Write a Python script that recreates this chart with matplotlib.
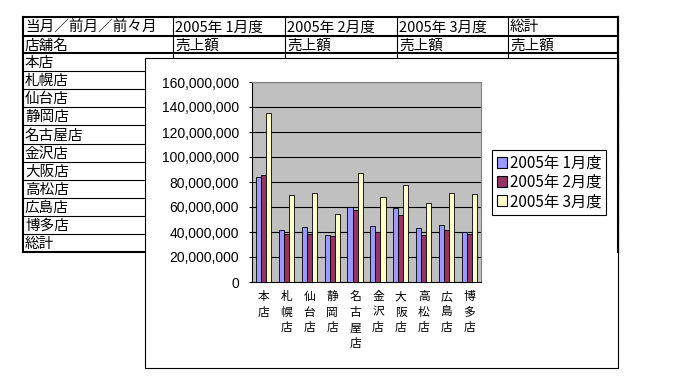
import matplotlib
matplotlib.use("Agg")
import matplotlib.pyplot as plt
from matplotlib.patches import Rectangle, Patch
from matplotlib.ticker import FuncFormatter

plt.rcParams['font.family'] = ['Noto Sans CJK JP', 'DejaVu Sans']

# sheet contents
header1 = ["当月／前月／前々月", "2005年 1月度", "2005年 2月度", "2005年 3月度", "総計"]
header2 = ["店舗名", "売上額", "売上額", "売上額", "売上額"]
stores = ["本店", "札幌店", "仙台店", "静岡店", "名古屋店", "金沢店",
          "大阪店", "高松店", "広島店", "博多店"]
total_label = "総計"

# chart data (yen)
series_names = ["2005年 1月度", "2005年 2月度", "2005年 3月度"]
jan = [84000000, 41600000, 44000000, 37600000, 60000000,
       44800000, 59200000, 43200000, 45600000, 40000000]
feb = [85600000, 38700000, 38700000, 36800000, 57600000,
       40300000, 53600000, 37600000, 41600000, 38400000]
mar = [135200000, 69600000, 71200000, 54400000, 87200000,
       68000000, 77600000, 63200000, 71200000, 70400000]
colors = ["#9999FF", "#993366", "#FFFFCC"]

W, H = 691, 379
fig = plt.figure(figsize=(W / 100, H / 100), dpi=100)

# spreadsheet in pixel coords
bg = fig.add_axes([0, 0, 1, 1])
bg.set_xlim(0, W)
bg.set_ylim(H, 0)
bg.axis("off")

cols = [23, 173, 285, 397, 508, 618]
rows = [17, 36, 53] + [53 + 18.1 * (i + 1) for i in range(11)]
thin, thick = 0.8, 1.5
for y in rows:
    lw = thick if y in (17, 36, 53, rows[-1]) else thin
    bg.plot([cols[0], cols[-1]], [y, y], color="black", lw=lw, zorder=2)
for x in cols:
    bg.plot([x, x], [rows[0], rows[-1]], color="black", lw=thick if x in (23, 618) else thin, zorder=2)

for j, t in enumerate(header1):
    bg.text(cols[j] + 2, (rows[0] + rows[1]) / 2 + 1, t, fontsize=10.5, va="center", ha="left")
for j, t in enumerate(header2):
    bg.text(cols[j] + 2, (rows[1] + rows[2]) / 2 + 1, t, fontsize=10.5, va="center", ha="left")
for i, t in enumerate(stores + [total_label]):
    bg.text(cols[0] + 2, (rows[i + 2] + rows[i + 3]) / 2 + 1, t, fontsize=10.5, va="center", ha="left")

# chart frame on top of the sheet
bg.add_patch(Rectangle((145, 58), 618 - 145, 368 - 58, facecolor="white",
                       edgecolor="black", lw=0.8, zorder=5))
bg.plot([618, 618], [rows[0], rows[-1]], color="black", lw=thick, zorder=6)

# chart
ax = fig.add_axes([252 / W, (H - 282) / H, (481 - 252) / W, 200 / H])
ax.set_facecolor("#C0C0C0")
n = len(stores)
bw = 0.22
xs = list(range(n))
for k, (vals, c) in enumerate(zip([jan, feb, mar], colors)):
    ax.bar([x + (k - 1) * bw for x in xs], vals, bw, color=c, edgecolor="black",
           linewidth=0.6, zorder=3)
ax.set_xlim(-0.5, n - 0.5)
ax.set_ylim(0, 160000000)
ax.set_yticks(range(0, 160000001, 20000000))
ax.yaxis.set_major_formatter(FuncFormatter(lambda v, p: f"{int(v):,}"))
ax.grid(axis="y", color="black", lw=0.8, zorder=1)
ax.set_axisbelow(True)
for lab in ax.get_yticklabels():
    lab.set_family("Liberation Sans")
    lab.set_fontsize(10)
ax.tick_params(axis="y", length=2.2, width=0.8, pad=7)
ax.set_xticks(xs)
ax.set_xticklabels(["\n".join(s) for s in stores], fontsize=8.5, linespacing=1.25)
ax.tick_params(axis="x", length=0, pad=6)
for side in ["top", "right"]:
    ax.spines[side].set_color("#808080")
    ax.spines[side].set_linewidth(0.8)
for side in ["left", "bottom"]:
    ax.spines[side].set_linewidth(0.8)

handles = [Patch(facecolor=c, edgecolor="black", lw=0.8) for c in colors]
leg = ax.legend(handles, series_names, loc="upper left",
                bbox_to_anchor=(492 / W, 1 - 150 / H), bbox_transform=fig.transFigure,
                borderaxespad=0, fontsize=11, handlelength=0.7, handleheight=0.7,
                handletextpad=0.2, labelspacing=0.15, borderpad=0.3,
                fancybox=False, framealpha=1, edgecolor="black")
leg.get_frame().set_linewidth(0.8)

fig.savefig("out.png", dpi=100)
